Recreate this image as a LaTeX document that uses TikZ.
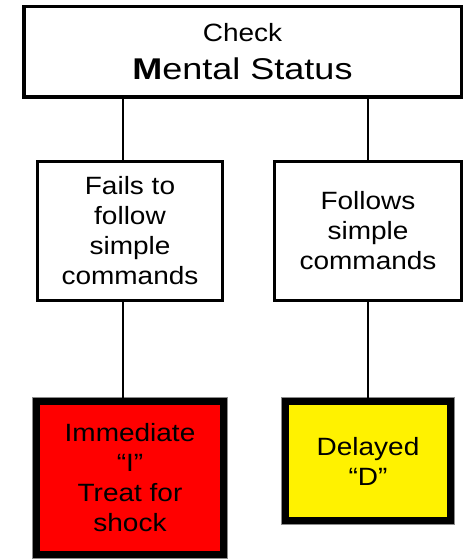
\documentclass[tikz,border=0pt]{standalone}
\usepackage{fontspec}
\setmainfont{Liberation Sans}
\newfontfamily\wfont[FakeStretch=1.12]{Liberation Sans}
\newfontfamily\mfont[FakeStretch=1.2]{Liberation Sans}
\begin{document}
\begin{tikzpicture}[x=1pt,y=-1pt,
  box/.style={draw=black, rectangle, inner sep=0pt, align=center,
    font=\wfont\fontsize{25}{30}\selectfont},
  thinbox/.style={box, line width=3.5pt, fill=white},
  heavybox/.style={box, line width=7.5pt,
    preaction={draw=black!45, line width=9pt}},
  link/.style={draw=black, line width=1.2pt}]
\useasboundingbox (0,0) rectangle (464,559);
\coordinate (lx) at (123,0);
\coordinate (rx) at (368,0);
\node[thinbox, minimum width=437.5pt, minimum height=90.5pt,
  font=\wfont\fontsize{25}{38}\selectfont] (top) at (242.5,52)
  {Check\\{\mfont\fontsize{30}{38}\selectfont\textbf{M}ental Status}};
\node[thinbox, minimum width=185pt, minimum height=139pt] (fail) at (130,231)
  {Fails to\\follow\\simple\\commands};
\node[thinbox, minimum width=187pt, minimum height=139pt] (follow) at (368,231)
  {Follows\\simple\\commands};
\node[heavybox, fill=red, minimum width=187pt, minimum height=153pt] (imm) at (130,478)
  {Immediate\\“I”\\Treat for\\shock};
\node[heavybox, fill=yellow, minimum width=165pt, minimum height=119pt] (del) at (368,461)
  {Delayed\\“D”};
\draw[link] (top.south -| lx) -- (fail.north -| lx);
\draw[link] (fail.south -| lx) -- (imm.north -| lx);
\draw[link] (top.south -| rx) -- (follow.north -| rx);
\draw[link] (follow.south -| rx) -- (del.north -| rx);
\end{tikzpicture}
\end{document}
